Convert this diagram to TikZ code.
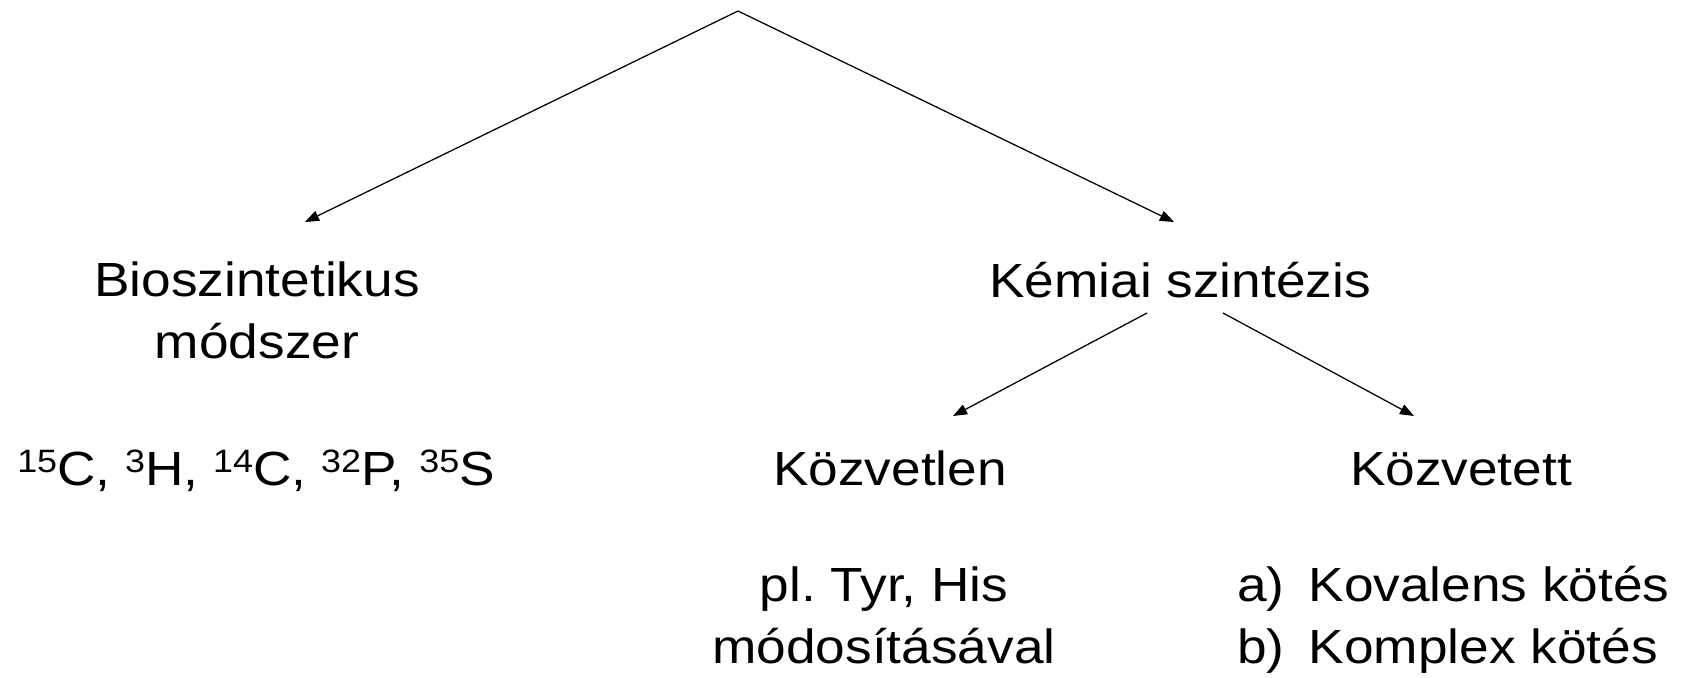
\documentclass[tikz,border=0pt]{standalone}
\usepackage{fontspec}
\setmainfont[FakeStretch=1.11]{Liberation Sans}
\usetikzlibrary{arrows.meta}

\newcommand\isotope[2]{\raisebox{9pt}{\fontsize{23}{23}\selectfont #1}#2}

\tikzset{
  arr/.style={-{Triangle[length=10pt,width=7.5pt]}, line width=0.9pt},
  txt/.style={font=\fontsize{34.1}{43.8}\selectfont, inner sep=0pt}
}

\begin{document}
\begin{tikzpicture}[x=0.025cm, y=-0.025cm]
\useasboundingbox (0,0) rectangle (1689,677);

% top level
\coordinate (root) at (738,11);
\coordinate (bioTip) at (305,222);
\coordinate (kemTip) at (1174,222);
\draw[arr] (root) -- (bioTip);
\draw[arr] (root) -- (kemTip);

\node[txt, anchor=base, align=center] (bio) at (257,358) {Bioszintetikus\\módszer};
\node[txt, anchor=base] (kem) at (1180,297) {Kémiai szintézis};

% second level
\coordinate (kemL) at (1147,313);
\coordinate (kemR) at (1223,313);
\coordinate (kozTip) at (953,416);
\coordinate (kottTip) at (1414,416);
\draw[arr] (kemL) -- (kozTip);
\draw[arr] (kemR) -- (kottTip);

\node[txt, anchor=base west] (izotop) at (17,485)
  {\isotope{15}{C}, \isotope{3}{H}, \isotope{14}{C}, \isotope{32}{P}, \isotope{35}{S}};
\node[txt, anchor=base] (kozv) at (890,485) {Közvetlen};
\node[txt, anchor=base] (kott) at (1461,485) {Közvetett};

% examples
\node[txt, anchor=base, align=center] (pelda) at (884,663) {pl.\ Tyr, His\\módosításával};
\node[txt, anchor=base west, align=left] (lista) at (1237,663)
  {a)\hspace{0.6cm}Kovalens kötés\\b)\hspace{0.6cm}Komplex kötés};
\end{tikzpicture}
\end{document}
